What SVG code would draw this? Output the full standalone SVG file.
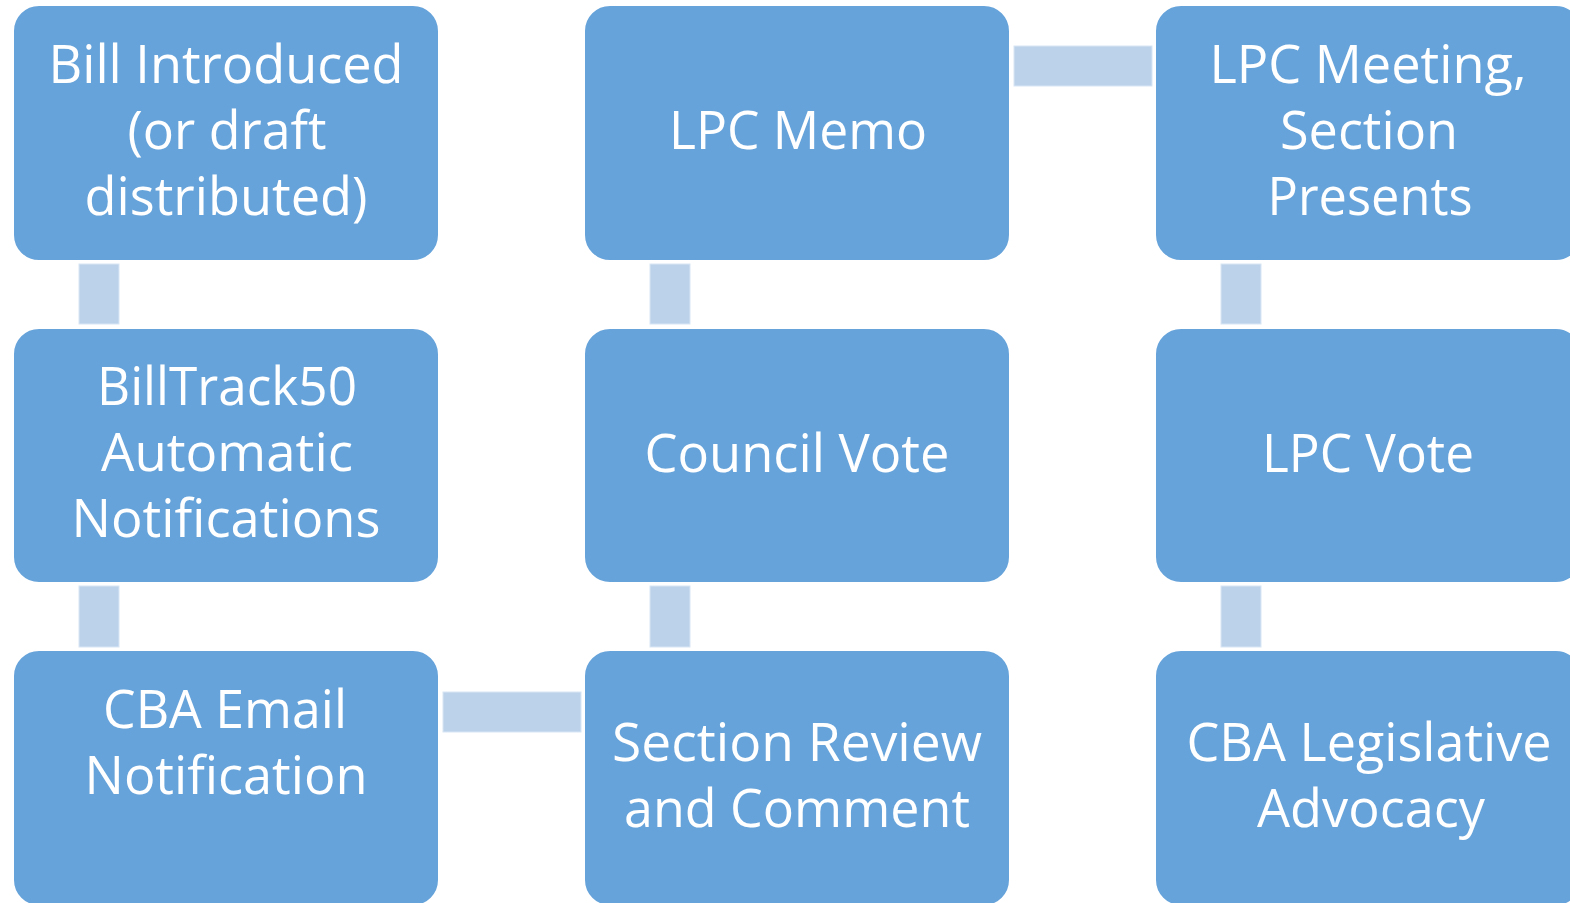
<svg xmlns="http://www.w3.org/2000/svg" width="1570" height="903" viewBox="0 0 1570 903">
  <style>
    .box { fill: #66a3da; stroke: #ffffff; stroke-width: 2; }
    .link { fill: #bcd2ea; stroke: #d9e6f4; stroke-width: 1; }
    .label { font-family: "Open Sans", "Liberation Sans", sans-serif; font-size: 53px; fill: #ffffff; text-anchor: middle; }
  </style>
  <rect width="1570" height="903" fill="#ffffff"/>

  <!-- connectors between steps -->
  <g id="connectors">
    <rect class="link" x="79" y="264" width="40" height="60"/>
    <rect class="link" x="79" y="586" width="40" height="61"/>
    <rect class="link" x="443" y="692" width="138" height="40"/>
    <rect class="link" x="650" y="586" width="40" height="61"/>
    <rect class="link" x="650" y="264" width="40" height="60"/>
    <rect class="link" x="1014" y="46" width="138" height="40"/>
    <rect class="link" x="1221" y="264" width="40" height="60"/>
    <rect class="link" x="1221" y="586" width="40" height="61"/>
  </g>

  <!-- column 1 -->
  <g id="bill-introduced">
    <rect class="box" x="13" y="5" width="426" height="256" rx="26"/>
    <text class="label" x="226" y="83" textLength="355" lengthAdjust="spacingAndGlyphs">Bill Introduced</text>
    <text class="label" x="227" y="149" textLength="199" lengthAdjust="spacingAndGlyphs">(or draft</text>
    <text class="label" x="226" y="215" textLength="283" lengthAdjust="spacingAndGlyphs">distributed)</text>
  </g>
  <g id="billtrack50">
    <rect class="box" x="13" y="328" width="426" height="255" rx="26"/>
    <text class="label" x="227" y="405" textLength="260" lengthAdjust="spacingAndGlyphs">BillTrack50</text>
    <text class="label" x="227" y="471" textLength="252" lengthAdjust="spacingAndGlyphs">Automatic</text>
    <text class="label" x="226" y="537" textLength="309" lengthAdjust="spacingAndGlyphs">Notifications</text>
  </g>
  <g id="cba-email">
    <rect class="box" x="13" y="650" width="426" height="256" rx="26"/>
    <text class="label" x="225" y="728" textLength="244" lengthAdjust="spacingAndGlyphs">CBA Email</text>
    <text class="label" x="226" y="794" textLength="283" lengthAdjust="spacingAndGlyphs">Notification</text>
  </g>

  <!-- column 2 -->
  <g id="lpc-memo">
    <rect class="box" x="584" y="5" width="426" height="256" rx="26"/>
    <text class="label" x="798" y="149" textLength="258" lengthAdjust="spacingAndGlyphs">LPC Memo</text>
  </g>
  <g id="council-vote">
    <rect class="box" x="584" y="328" width="426" height="255" rx="26"/>
    <text class="label" x="797" y="472" textLength="305" lengthAdjust="spacingAndGlyphs">Council Vote</text>
  </g>
  <g id="section-review">
    <rect class="box" x="584" y="650" width="426" height="256" rx="26"/>
    <text class="label" x="797" y="761" textLength="370" lengthAdjust="spacingAndGlyphs">Section Review</text>
    <text class="label" x="797" y="827" textLength="346" lengthAdjust="spacingAndGlyphs">and Comment</text>
  </g>

  <!-- column 3 -->
  <g id="lpc-meeting">
    <rect class="box" x="1155" y="5" width="427" height="256" rx="26"/>
    <text class="label" x="1368" y="83" textLength="317" lengthAdjust="spacingAndGlyphs">LPC Meeting,</text>
    <text class="label" x="1369" y="149" textLength="178" lengthAdjust="spacingAndGlyphs">Section</text>
    <text class="label" x="1370" y="215" textLength="205" lengthAdjust="spacingAndGlyphs">Presents</text>
  </g>
  <g id="lpc-vote">
    <rect class="box" x="1155" y="328" width="427" height="255" rx="26"/>
    <text class="label" x="1368" y="472" textLength="212" lengthAdjust="spacingAndGlyphs">LPC Vote</text>
  </g>
  <g id="cba-advocacy">
    <rect class="box" x="1155" y="650" width="427" height="256" rx="26"/>
    <text class="label" x="1369" y="761" textLength="365" lengthAdjust="spacingAndGlyphs">CBA Legislative</text>
    <text class="label" x="1371" y="827" textLength="228" lengthAdjust="spacingAndGlyphs">Advocacy</text>
  </g>
</svg>
